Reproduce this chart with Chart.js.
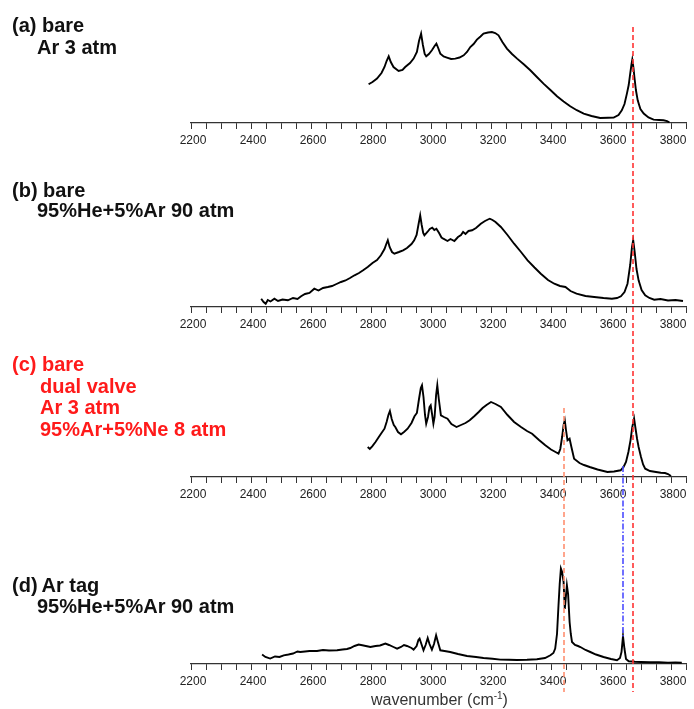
<!DOCTYPE html>
<html lang="en">
<head>
  <meta charset="UTF-8" />
  <title>IR spectra</title>
  <script src="https://cdn.jsdelivr.net/npm/chart.js"></script>
  <style>
    body {
      margin: 0;
      background: #fff;
      font-family: 'Liberation Sans', Arial, sans-serif;
    }
    #wrap {
      position: relative;
      width: 694px;
      height: 709px;
      overflow: hidden;
    }
    canvas { position: absolute; left: 0; }
    #panelA { top: 13px; }
    #panelB { top: 197px; }
    #panelC { top: 367px; }
    #panelD { top: 554px; }
    #overlay { top: 0; pointer-events: none; }
    .label {
      position: absolute;
      left: 12px;
      font-weight: bold;
      font-size: 20px;
      color: #111;
      white-space: nowrap;
    }
    .label span { display: block; padding-left: 25px; }
    #labA { top: 14px; line-height: 22.4px; }
    #labB { top: 181px; line-height: 19.5px; }
    #labC { top: 354px; line-height: 21.7px; color: #ff1a1a; }
    #labC span { padding-left: 28px; }
    #labD { top: 575px; line-height: 21px; }
    #xtitle {
      position: absolute;
      left: 371px;
      top: 692px;
      font-size: 16px;
      line-height: 16px;
      color: #333;
      white-space: nowrap;
    }
    #xtitle sup { font-size: 10px; line-height: 0; }
  </style>
</head>
<body>
  <div id="wrap">
    <canvas id="panelA" width="694" height="150"></canvas>
    <canvas id="panelB" width="694" height="150"></canvas>
    <canvas id="panelC" width="694" height="150"></canvas>
    <canvas id="panelD" width="694" height="150"></canvas>
    <canvas id="overlay" width="694" height="709"></canvas>

    <div class="label" id="labA">(a) bare<span>Ar 3 atm</span></div>
    <div class="label" id="labB">(b) bare<span>95%He+5%Ar 90 atm</span></div>
    <div class="label" id="labC">(c) bare<span>dual valve</span><span>Ar 3 atm</span><span>95%Ar+5%Ne 8 atm</span></div>
    <div class="label" id="labD">(d)&#8201;Ar tag<span>95%He+5%Ar 90 atm</span></div>
    <div id="xtitle">wavenumber (cm<sup>-1</sup>)</div>
  </div>

  <script>
    // spectra (wavenumber, intensity in arb. units)
    const waveA = [2792,2805,2820,2835,2845,2852,2859,2866,2875,2892,2905,2914,2930,2942,2953,2960,2967,2973,2979,2984,2993,3003,3012,3018,3024,3031,3042,3053,3067,3081,3095,3109,3120,3131,3142,3153,3165,3175,3190,3203,3214,3225,3238,3253,3270,3287,3310,3331,3353,3375,3398,3420,3442,3464,3486,3509,3535,3564,3590,3609,3625,3636,3645,3653,3659,3664,3668,3671,3675,3678,3683,3689,3698,3709,3725,3742,3760,3775,3787,3795]
    const intA = [38.7,41,44.4,50,56,62,66.7,61,56,52,53,56,60,64.4,71,82,89.4,78,69,66.7,69,72.7,77,79.4,75,69.4,66.5,65.4,64,64.4,65.5,67.7,71,76,79,83.4,86.5,89.4,90.5,91,90,87.7,81,74.4,69,64.4,58.5,52.7,46,39.4,33,26.7,21.5,16.7,12.8,9.4,7,5,5.2,5.4,8,12.7,19,29.4,38,49.4,58,63.4,55,46,33,22.7,14,9.4,5.5,3.4,3,2.7,1.8,0.5]

    const waveB = [2434,2442,2449,2456,2465,2478,2490,2505,2523,2540,2555,2567,2580,2595,2611,2625,2640,2656,2670,2685,2700,2715,2730,2745,2760,2775,2789,2805,2820,2833,2845,2851,2856,2862,2870,2878,2893,2907,2920,2935,2944,2952,2958,2964,2969,2974,2978,2988,2996,3004,3011,3018,3027,3035,3041,3055,3065,3078,3090,3100,3107,3115,3125,3137,3150,3166,3180,3190,3196,3205,3215,3233,3255,3277,3300,3322,3345,3366,3390,3411,3430,3448,3465,3485,3515,3544,3575,3603,3620,3633,3645,3655,3664,3670,3674,3679,3685,3692,3702,3714,3728,3744,3765,3790,3815,3840]
    const intB = [8.3,5,3.3,7,5.5,8.3,6,7.5,6.7,9,8,10.7,13,14,18.3,16.5,19,20,21,23,25,26.5,29,31.7,34,37,40,44,47,51.7,58,63,66.7,60,55,53.3,55,56.7,59,63,66.7,72,82,91.7,82,74,71.7,75,78,79.3,77,78.3,74,69.5,68.3,66,68,66,70,72,75,73,76,76.7,79,83.3,86,87.5,88.3,87,85,80,72,63.3,55,46.7,39.5,33.3,27,23.3,21,20,16,13.3,11,10,9,8.3,9,10.7,15,23.3,42,60,66.7,55,38,26.7,17,11.7,9,7.3,8,6.5,7,6]

    const waveC = [2789,2796,2804,2815,2826,2835,2845,2852,2858,2863,2869,2876,2881,2890,2900,2910,2922,2935,2945,2953,2960,2966,2970,2975,2980,2984,2990,2995,2999,3004,3008,3012,3017,3021,3026,3033,3043,3055,3068,3085,3100,3115,3129,3145,3159,3172,3185,3200,3215,3233,3255,3277,3300,3320,3337,3360,3381,3400,3415,3425,3431,3437,3442,3446,3450,3455,3462,3468,3477,3495,3510,3529,3555,3588,3610,3632,3642,3650,3658,3665,3671,3677,3682,3687,3692,3700,3707,3714,3730,3750,3766,3780,3790,3800]
    const intC = [30,28,30.7,35,40,44,48.3,55,62,66,58,52,50,45,42.7,45,48.3,54,60.7,64,78,89,91.7,80,62,53.3,60,70,71.7,62,53.3,60,82,91.7,78,61.7,60,58.3,53,50,52,54,56.7,61,65,69,72,75,73,70,62,55,50,46,43.3,37,31.7,27.5,25,23.3,28,40,52,56.7,47,36.7,38.3,30,18.3,14,12,10,7.5,5,5.5,6.7,10,15,25,36.7,50,58.3,48,38,30,20,12.5,8.3,6,5,4.3,4,3,1]

    const waveD = [2437,2448,2464,2480,2495,2509,2525,2540,2555,2564,2580,2595,2620,2640,2660,2687,2705,2720,2731,2745,2759,2775,2798,2815,2830,2848,2860,2875,2887,2900,2910,2920,2935,2942,2952,2958,2962,2968,2975,2982,2989,2995,3003,3010,3017,3023,3031,3045,3064,3090,3120,3150,3175,3205,3231,3260,3286,3320,3353,3380,3398,3408,3414,3420,3425,3429,3433,3437,3442,3446,3449,3453,3457,3462,3466,3470,3480,3490,3498,3515,3531,3550,3575,3600,3620,3630,3635,3640,3645,3650,3659,3680,3700,3731,3760,3790,3815,3836]
    const intD = [9.4,7,5.4,7.5,7,8.7,9.5,10.5,12.5,12,12.5,13,13,14,13.5,13.7,14.5,15,16,18,19.4,18.5,17,18,18.5,20.4,19,17,15.4,17,19,18,16,14.4,18,24,25.4,20,13.7,19,26,20,14.4,20,28.7,22,13.7,13,12,10,8,7,6,5.2,4.4,4.2,4,4.2,4.7,6,8.7,11,15.4,30,58.7,80,95.4,92,82,55,65,78.7,70,42,30,22,19,18,17,14,12,9.5,7,5,3.7,6,12,27.7,15,5,2.7,2.2,2,1.7,1.8,1.4,1.5,1.3]

    // axis ticks: marks every 50, labels every 200
    const xMin = 2200
    const xMax = 3850
    const tickStep = 50
    const labelStep = 200
    const lastLabel = 3800

    // vertical guide lines (wavenumber) and how far they run on the page
    const guideWave = [3673, 3442, 3640]
    const guideColor = ['#ff3333', '#ff8f70', '#4d4dff']
    const guideFrom = [27, 408, 466]
    const guideTo = [692, 692, 637]
    const guideDash = [[5, 3], [5, 3], [6, 2, 1.5, 2]]

    function makePanel(id, xs, ys) {
      const pts = xs.map((x, i) => ({ x: x, y: ys[i] }))
      return new Chart(document.getElementById(id), {
        type: 'line',
        data: {
          datasets: [{
            data: pts,
            borderColor: '#000',
            borderWidth: 1.9,
            pointRadius: 0,
            tension: 0,
            fill: false
          }]
        },
        options: {
          responsive: false,
          animation: false,
          events: [],
          layout: { padding: { left: 191, right: 8, top: 10, bottom: 10 } },
          plugins: { legend: { display: false }, tooltip: { enabled: false } },
          scales: {
            x: {
              type: 'linear',
              min: xMin,
              max: xMax,
              afterFit: (s) => { s.height = 30 },
              ticks: {
                stepSize: tickStep,
                autoSkip: false,
                maxRotation: 0,
                padding: 4,
                labelOffset: 2,
                color: '#222',
                font: { family: "'Liberation Sans', Arial, sans-serif", size: 12 },
                callback: (v) => (v % labelStep === 0 && v <= lastLabel) ? String(v) : ''
              },
              grid: {
                drawOnChartArea: false,
                drawTicks: true,
                tickLength: 6,
                tickColor: '#333',
                tickWidth: 1
              },
              border: { display: true, color: '#333', width: 1.2 }
            },
            y: { display: false, min: 0, max: 100 }
          }
        }
      })
    }

    const charts = [
      makePanel('panelA', waveA, intA),
      makePanel('panelB', waveB, intB),
      makePanel('panelC', waveC, intC),
      makePanel('panelD', waveD, intD)
    ]

    // guide lines on a transparent overlay, placed with the panels' own x scale
    const xs = charts[0].scales.x
    const ctx = document.getElementById('overlay').getContext('2d')
    guideWave.forEach((w, i) => {
      const px = Math.round(xs.getPixelForValue(w))
      ctx.save()
      ctx.strokeStyle = guideColor[i]
      ctx.lineWidth = 1.6
      ctx.setLineDash(guideDash[i])
      ctx.beginPath()
      ctx.moveTo(px, guideFrom[i])
      ctx.lineTo(px, guideTo[i])
      ctx.stroke()
      ctx.restore()
    })
  </script>
</body>
</html>
